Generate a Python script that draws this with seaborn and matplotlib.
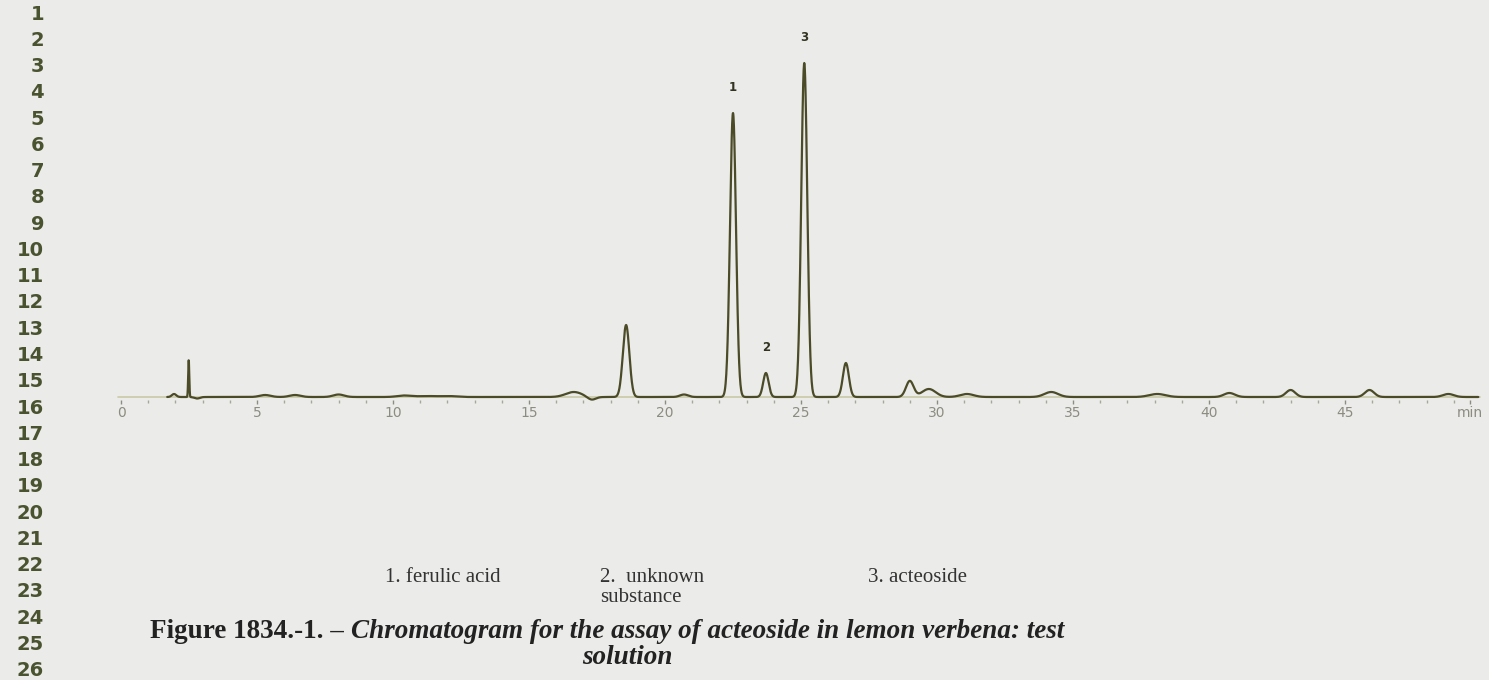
import numpy as np
import pandas as pd
import seaborn as sns
import matplotlib.pyplot as plt

# Peak table (retention time in min, height, width in min)
peak_time = [1.95, 2.49, 2.8, 5.3, 6.4, 8.0, 10.4, 11.2, 12.0, 16.65, 17.3, 18.57,
             20.7, 22.5, 23.71, 25.12, 26.65, 29.0, 29.7, 31.1, 34.2, 38.1, 40.75,
             43.0, 45.9, 48.8]
peak_height = [3, 37, -1.5, 2, 2, 2.5, 1.5, 1, 1, 5, -3, 72,
               2.5, 284, 24, 334, 34, 16, 8, 3, 5, 3, 4,
               7, 7, 3]
peak_width = [0.08, 0.02, 0.1, 0.2, 0.2, 0.2, 0.25, 0.3, 0.3, 0.3, 0.15, 0.12,
              0.15, 0.11, 0.1, 0.11, 0.11, 0.14, 0.25, 0.25, 0.25, 0.3, 0.2,
              0.17, 0.17, 0.2]

# Labelled peaks
label_names = ["1", "2", "3"]
label_times = [22.5, 23.71, 25.12]
label_heights = [284, 24, 334]

legend_items = ["1. ferulic acid", "2.  unknown\nsubstance", "3. acteoside"]
caption_bold = "Figure 1834.-1. \u2013 "
caption_italic = "Chromatogram for the assay of acteoside in lemon verbena: test"

tick_vals = [0, 5, 10, 15, 20, 25, 30, 35, 40, 45]
tick_labels = ["0", "5", "10", "15", "20", "25", "30", "35", "40", "45"]

# build the trace from the peak table
t = np.linspace(1.7, 49.9, 6000)
sig = np.zeros_like(t)
for p, h, w in zip(peak_time, peak_height, peak_width):
    sig += h * np.exp(-0.5 * ((t - p) / w) ** 2)
df = pd.DataFrame({"time": t, "signal": sig})

bg = "#ebebe9"
sns.set_style("white", {"axes.facecolor": bg, "figure.facecolor": bg})

W, H = 1489, 680
fig = plt.figure(figsize=(W / 100, H / 100), dpi=100)
fig.patch.set_facecolor(bg)

# axes: x pixel 100..1480, y pixel 40..400 ; baseline at pixel 397
x0, x1 = 100, 1480
y_top, y_bot = 40, 400
ax = fig.add_axes([x0 / W, 1 - y_bot / H, (x1 - x0) / W, (y_bot - y_top) / H])
ax.set_facecolor(bg)
ppm = 27.2
zero_px = 121
ax.set_xlim((x0 - zero_px) / ppm, (x1 - zero_px) / ppm)
ax.set_ylim(-(y_bot - 397), 397 - y_top)

ax.axhline(0, xmin=(118 - x0) / (x1 - x0), xmax=1, color="#c9c9a6", lw=1.2, zorder=1,
           clip_on=False)
sns.lineplot(data=df, x="time", y="signal", ax=ax, color="#4b4b28", lw=1.6, zorder=2)
for line in ax.lines:
    line.set_clip_on(False)

for name, pt, ph in zip(label_names, label_times, label_heights):
    ax.annotate(name, (pt, ph), xytext=(0, 14), textcoords="offset points",
                ha="center", va="bottom", fontsize=8.5, fontweight="bold", color="#333322")

for s in ax.spines.values():
    s.set_visible(False)
ax.set_xlabel("")
ax.set_ylabel("")
ax.set_yticks([])
ax.set_xticks(tick_vals + [49.6])
ax.set_xticklabels(tick_labels + ["min"], fontsize=10, color="#8c8c80")
ax.set_xticks(np.arange(0, 50, 1), minor=True)
ax.tick_params(axis="x", which="major", direction="out", length=3, width=1,
               color="#8c8c80", pad=1, bottom=True)
ax.tick_params(axis="x", which="minor", direction="out", length=2, width=1,
               color="#a6a69a", bottom=True)

# line numbers in the margin
for i in range(1, 27):
    y = 14 + (i - 1) * 26.27
    fig.text(44 / W, 1 - y / H, str(i), ha="right", va="center", fontsize=14,
             fontweight="bold", color="#4a5330", family="DejaVu Sans")

# legend of peaks
serif = "Liberation Serif"
fs_leg = 15
fig.text(385 / W, 1 - 577 / H, legend_items[0], ha="left", va="center", fontsize=fs_leg,
         family=serif, color="#333333")
fig.text(600 / W, 1 - 577 / H, legend_items[1].split("\n")[0], ha="left", va="center",
         fontsize=fs_leg, family=serif, color="#333333")
fig.text(600 / W, 1 - 598 / H, legend_items[1].split("\n")[1], ha="left", va="center",
         fontsize=fs_leg, family=serif, color="#333333")
fig.text(868 / W, 1 - 577 / H, legend_items[2], ha="left", va="center", fontsize=fs_leg,
         family=serif, color="#333333")

# caption
fs_cap = 19.5
tb = fig.text(150 / W, 1 - 631 / H, caption_bold, ha="left", va="center", fontsize=fs_cap,
              family=serif, fontweight="bold", color="#222222")
fig.canvas.draw()
bb = tb.get_window_extent()
fig.text(bb.x1 / W, 1 - 631 / H, caption_italic, ha="left", va="center", fontsize=fs_cap,
         family=serif, fontweight="bold", style="italic", color="#222222")
fig.text(627 / W, 1 - 658 / H, "solution", ha="center", va="center", fontsize=fs_cap,
         family=serif, fontweight="bold", style="italic", color="#222222")

fig.savefig("out.png", dpi=100, facecolor=bg)
